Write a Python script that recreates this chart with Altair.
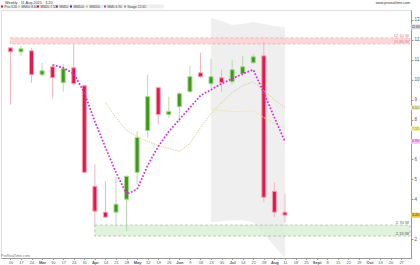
import json
import altair as alt
import pandas as pd

# ---------------- data ----------------
first_week = "2025-02-10"
opens  = [11.60, 11.40, 11.45, 10.25, 10.65, 9.85, 10.60, 9.70, 4.65, 3.35, 3.35, 4.00, 5.35, 7.45,
          9.60, 8.25, 8.65, 9.40, 10.35, 9.80, 10.10, 9.90, 10.30, 10.85, 11.20, 4.40, 3.35]
highs  = [11.60, 11.70, 11.60, 10.85, 10.75, 10.80, 11.80, 9.70, 5.75, 4.90, 5.15, 5.20, 7.40, 10.25,
          9.65, 9.15, 9.40, 10.70, 11.35, 11.05, 10.50, 11.00, 11.20, 11.30, 11.90, 4.85, 4.25]
lows   = [8.75, 11.20, 9.85, 10.15, 9.05, 9.40, 9.75, 5.30, 2.65, 3.05, 2.70, 2.40, 4.75, 7.10,
          7.75, 8.10, 7.85, 9.35, 10.10, 9.60, 9.40, 9.75, 10.15, 10.80, 3.85, 3.10, 2.85]
closes = [11.40, 11.55, 10.25, 10.45, 10.10, 10.55, 9.80, 5.35, 3.40, 3.10, 3.75, 5.15, 7.10, 9.15,
          8.25, 8.40, 9.30, 10.15, 10.15, 10.15, 9.85, 10.50, 10.65, 11.15, 4.10, 3.35, 3.20]

sma5 = [10.75, 10.60, 10.30, 9.35, 7.90, 6.60, 5.35, 4.25, 4.50, 5.70, 6.65, 7.40, 8.00, 8.60,
        9.20, 9.50, 9.80, 10.05, 10.30, 10.50, 9.35, 8.10, 6.90]
line_a = [8.85, 8.10, 7.45, 7.15, 6.90, 6.70, 6.55, 6.40, 6.80, 7.60, 8.30, 8.85, 9.35, 9.70,
          9.90, 9.45, 9.00, 8.60]
line_b = [8.55, 8.45, 8.40, 8.40, 8.45, 8.10, 7.80, 7.55]
cloud_top = [13.10, 12.95, 12.75, 12.80, 12.90, 12.80, 12.70, 12.65]
cloud_bot = [2.85, 2.90, 2.95, 2.95, 2.85, 2.25, 1.65, 1.05]

red_zone = [11.80, 12.10]
red_zone_start = "2025-02-10"
green_zone = [2.15, 2.70]
green_zone_start = "2025-04-07"

y_ticks = [2, 4, 5, 6, 8, 9, 10, 11, 12, 13]
month_labels = ["Jan", "Feb", "Mar", "Apr", "May", "Jun", "Jul", "Aug", "Sept", "Oct", "Nov", "Dec"]
n_axis_weeks = 38

legend_items = ["Prix 3.20", "MM10 8.60", "MM20 7.55", "MM50", "MM100", "MM200", "MM5 6.90", "Nuage 12.65"]
legend_colors = ["#e0194b", "#e6d84a", "#e0194b", "#e0194b", "#2233dd", "#c8c870", "#d62ad6", "#999999"]
legend_x = [1, 18, 37, 56, 70, 86, 104, 124]

# ---------------- frames ----------------
n = len(opens)
dates = pd.date_range(first_week, periods=n, freq="7D")
dstr = [d.strftime("%Y-%m-%dT00:00:00Z") for d in dates]


def pad(vals):
    return [None] * (n - len(vals)) + vals


df = pd.DataFrame({
    "date": dstr, "open": opens, "high": highs, "low": lows, "close": closes,
    "sma5": pad(sma5), "lineA": pad(line_a), "lineB": pad(line_b),
    "ctop": pad(cloud_top), "cbot": pad(cloud_bot),
})
df["dir"] = ["up" if c >= o else "down" for o, c in zip(opens, closes)]

bands = pd.DataFrame({
    "start": [red_zone_start + "T00:00:00Z", green_zone_start + "T00:00:00Z"],
    "lo": [red_zone[0], green_zone[0]],
    "hi": [red_zone[1], green_zone[1]],
    "kind": ["red", "green"],
})
band_labels = pd.DataFrame({
    "v": [red_zone[1], red_zone[0], green_zone[1], green_zone[0]],
    "t": [f"{red_zone[1]:.2f} W", f"{red_zone[0]:.2f} W", f"{green_zone[1]:.2f} W", f"{green_zone[0]:.2f} W"],
    "c": ["#e07a86", "#e07a86", "#555555", "#555555"],
})
boxes = pd.DataFrame({
    "v": [cloud_top[-1], line_a[-1], line_b[-1], sma5[-1], closes[-1]],
    "t": [f"{cloud_top[-1]:.2f}", f"{line_a[-1]:.2f}", f"{line_b[-1]:.2f}", f"{sma5[-1]:.2f}", f"{closes[-1]:.2f}"],
    "fill": ["#d9d9d9", "#ecebbd", "#f4efa6", "#f6c8f2", "#f0c43c"],
    "tc": ["#444444", "#777733", "#777733", "#b020b0", "#333333"],
})
legend_df = pd.DataFrame({"x": legend_x, "t": legend_items, "c": legend_colors})
legend_df["tx"] = legend_df["x"] + 2.5

tick_dates = pd.date_range(first_week, periods=n_axis_weeks, freq="7D")

# ---------------- scales / axes ----------------
FONT = "Liberation Sans"
xscale = alt.Scale(type="utc", domain=[alt.DateTime(year=2025, month=2, date=7, hours=2, utc=True),
                                       alt.DateTime(year=2025, month=10, date=30, hours=6, utc=True)])
label_expr = ("utcdate(datum.value) <= 7 ? " + json.dumps(month_labels) +
              "[utcmonth(datum.value)] : '' + utcdate(datum.value)")
xaxis = alt.Axis(values=[alt.DateTime(year=d.year, month=d.month, date=d.day, utc=True) for d in tick_dates],
                 labelExpr=label_expr, labelFontSize=4, labelColor="#555", labelPadding=0.5,
                 tickSize=1.5, tickColor="#999", domainColor="#999", grid=False, title=None,
                 labelFont=FONT, labelOverlap=False, labelFlush=False,
                 labelFontWeight={"condition": {"test": "utcdate(datum.value) <= 7", "value": "bold"},
                                  "value": "normal"})
yscale = alt.Scale(domain=[1.05, 13.5], nice=False, zero=False)
yaxis = alt.Axis(orient="right", values=y_ticks, labelFontSize=4.5, labelColor="#555", labelPadding=1,
                 tickSize=2, tickColor="#999", domainColor="#999", grid=False, title=None, labelFont=FONT)


def X(field="date"):
    return alt.X(f"{field}:T", scale=xscale, axis=xaxis)


def Y(field):
    return alt.Y(f"{field}:Q", scale=yscale, axis=yaxis)


base = alt.Chart(df)

cloud = base.transform_filter("isValid(datum.ctop)").mark_area(color="#efefef").encode(
    x=X(), y=Y("ctop"), y2="cbot:Q")

band_rect = alt.Chart(bands).mark_rect(strokeDash=[3, 2], strokeWidth=0.8, opacity=0.85).encode(
    x=X("start"), x2=alt.value(409), y=Y("lo"), y2="hi:Q",
    fill=alt.Fill("kind:N", scale=alt.Scale(domain=["red", "green"], range=["#fcd2d4", "#dcf0d8"]), legend=None),
    stroke=alt.Stroke("kind:N", scale=alt.Scale(domain=["red", "green"], range=["#f09aa2", "#99b895"]), legend=None))

wicks = base.mark_rule(strokeWidth=1).encode(
    x=X(), y=Y("low"), y2="high:Q",
    color=alt.Color("dir:N", scale=alt.Scale(domain=["up", "down"], range=["#b9d8b1", "#f0b4c0"]), legend=None))

bodies = base.mark_bar(size=4, strokeWidth=1).encode(
    x=X(), y=Y("open"), y2="close:Q",
    fill=alt.Fill("dir:N", scale=alt.Scale(domain=["up", "down"], range=["#3c9a16", "#e0194b"]), legend=None),
    stroke=alt.Stroke("dir:N", scale=alt.Scale(domain=["up", "down"], range=["#a6d592", "#f5a3b6"]), legend=None))

la = base.transform_filter("isValid(datum.lineA)").mark_line(
    color="#d8d49a", strokeWidth=1, strokeDash=[1.5, 1]).encode(x=X(), y=Y("lineA"))
lb = base.transform_filter("isValid(datum.lineB)").mark_line(
    color="#ede69a", strokeWidth=1, strokeDash=[1.5, 1]).encode(x=X(), y=Y("lineB"))
ma = base.transform_filter("isValid(datum.sma5)").mark_line(
    color="#d62ad6", strokeWidth=1.7, strokeDash=[1.7, 1.7]).encode(x=X(), y=Y("sma5"))

box_marks = alt.Chart(boxes).mark_point(
    shape="M-1,-0.55L1,-0.55L1,0.55L-1,0.55Z", filled=True, size=81, opacity=1).encode(
    x=alt.value(414.5), y=Y("v"), fill=alt.Fill("fill:N", scale=None))
box_text = alt.Chart(boxes).mark_text(fontSize=3.5, font=FONT, align="center", baseline="middle").encode(
    x=alt.value(414.5), y=Y("v"), text="t:N", color=alt.Color("tc:N", scale=None))

band_text = alt.Chart(band_labels).mark_text(fontSize=4.2, font=FONT, align="right", baseline="bottom", dy=-0.3).encode(
    x=alt.value(408), y=Y("v"), text="t:N", color=alt.Color("c:N", scale=None))

# header rows
title_txt = alt.Chart(pd.DataFrame({"t": ["Weekly · 11 Aug 2025 · 3.20"]})).mark_text(
    fontSize=3.8, font=FONT, align="left", baseline="middle", color="#333").encode(
    x=alt.value(4), y=alt.value(-7.5), text="t:N")
leg_bg = alt.Chart(pd.DataFrame({"a": [0]})).mark_rect(color="#eeeeee").encode(
    x=alt.value(-1), x2=alt.value(163), y=alt.value(-5.6), y2=alt.value(-1.4))
leg_sq = alt.Chart(legend_df).mark_square(size=4, filled=True, opacity=1).encode(
    x=alt.X("x:Q", scale=None), y=alt.value(-3.5), color=alt.Color("c:N", scale=None))
leg_tx = alt.Chart(legend_df).mark_text(fontSize=3.2, font=FONT, align="left", baseline="middle", color="#444").encode(
    x=alt.X("tx:Q", scale=None), y=alt.value(-3.5), text="t:N")
site_top = alt.Chart(pd.DataFrame({"t": ["www.prorealtime.com"]})).mark_text(
    fontSize=3.6, font=FONT, align="right", baseline="middle", color="#333").encode(
    x=alt.value(409), y=alt.value(-7), text="t:N")
site_bot = alt.Chart(pd.DataFrame({"t": ["ProRealTime.com"]})).mark_text(
    fontSize=3.6, font=FONT, align="left", baseline="bottom", color="#777").encode(
    x=alt.value(0), y=alt.value(248), text="t:N")

chart = alt.layer(
    cloud, band_rect, wicks, bodies, la, lb, ma, band_text, box_marks, box_text,
    title_txt, leg_bg, leg_sq, leg_tx, site_top, site_bot
).resolve_scale(color="independent", fill="independent", stroke="independent").properties(
    width=410, height=248,
    padding={"left": 1, "top": 10, "right": 9, "bottom": 7},
    autosize="none",
).configure_view(stroke="#d6d6d6").configure(background="white", font=FONT)

chart.save("out.html", embed_options={"renderer": "svg", "actions": False})
